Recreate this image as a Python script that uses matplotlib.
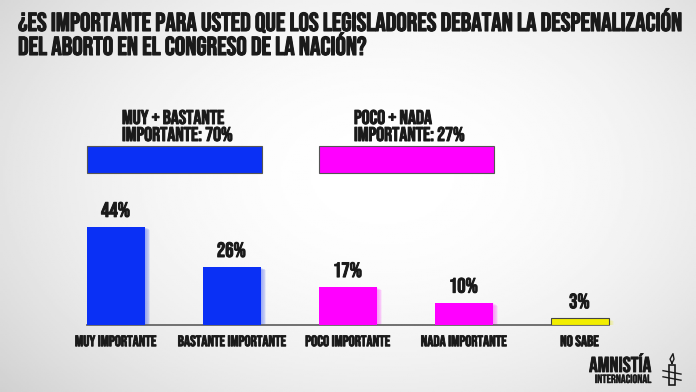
import matplotlib.pyplot as plt
import matplotlib.patheffects as pe
import numpy as np
from matplotlib.patches import Rectangle

categories = ["MUY IMPORTANTE", "BASTANTE IMPORTANTE", "POCO IMPORTANTE", "NADA IMPORTANTE", "NO SABE"]
values = [44, 26, 17, 10, 3]
bar_colors = ["#0a30f5", "#0a30f5", "#ff00ff", "#ff00ff", "#f2ee00"]
edge_colors = ["none", "none", "none", "none", "#444444"]
summary_line1 = ["MUY + BASTANTE", "POCO + NADA"]
summary_line2 = ["IMPORTANTE: 70%", "IMPORTANTE: 27%"]
summary_colors = ["#0a30f5", "#ff00ff"]
title1 = "¿ES IMPORTANTE PARA USTED QUE LOS LEGISLADORES DEBATAN LA DESPENALIZACIÓN"
title2 = "DEL ABORTO EN EL CONGRESO DE LA NACIÓN?"

FONT = ["Bebas Neue", "Oswald", "Liberation Sans Narrow", "DejaVu Sans"]
INK = "#1a1a1a"
W, H = 696, 392
fig = plt.figure(figsize=(W / 100, H / 100), dpi=100)


def bold(w=0.8):
    return [pe.withStroke(linewidth=w, foreground=INK)]


def fx(px):
    return px / W


def fy(py):
    return 1 - py / H


# background gradient
bg = fig.add_axes([0, 0, 1, 1])
yy, xx = np.mgrid[0:1:200j, 0:1:350j]
r = np.sqrt(((xx - 0.55) / 0.75) ** 2 + ((yy - 0.45) / 0.9) ** 2)
bg.imshow(1 - 0.2 * r ** 2, cmap="gray", vmin=0, vmax=1, aspect="auto", extent=[0, 1, 0, 1])
bg.set_xlim(0, 1)
bg.set_ylim(0, 1)
bg.axis("off")

# title
fig.text(fx(18), fy(31), title1, ha="left", va="baseline", fontsize=18.8,
         family=FONT, color=INK, path_effects=bold())
fig.text(fx(18), fy(55), title2, ha="left", va="baseline", fontsize=18.8,
         family=FONT, color=INK, path_effects=bold())

# summary boxes
for i in range(2):
    x0 = 87 + i * 232
    fig.patches.append(Rectangle((fx(x0), fy(173)), fx(175), 27 / H, transform=fig.transFigure,
                                 facecolor=summary_colors[i], edgecolor="#555555", lw=0.8))
    fig.text(fx(x0 + 35), fy(124), summary_line1[i], ha="left", va="baseline", fontsize=14.3,
             family=FONT, color=INK, path_effects=bold(0.7))
    fig.text(fx(x0 + 35), fy(141), summary_line2[i], ha="left", va="baseline", fontsize=14.3,
             family=FONT, color=INK, path_effects=bold(0.7))

# main bars
spacing = 116
left = 115.5 - spacing / 2
ax = fig.add_axes([fx(left), fy(325), 5 * spacing / W, 111.5 / H])
ax.set_xlim(-0.5, 4.5)
ax.set_ylim(0, 50)
x = np.arange(len(values))
# soft shadow
for k in range(6):
    ax.bar(x + 0.015 + k * 0.007, values, width=0.5, bottom=-0.3 - 0.2 * k,
           color=bar_colors, alpha=0.07, zorder=1)
ax.bar(x, values, width=0.5, color=bar_colors, edgecolor=edge_colors, lw=0.8, zorder=3)
ax.plot([-0.25, 4.25], [0, 0], color="#666666", lw=1.3, zorder=2, clip_on=False)
for xi, v in zip(x, values):
    ax.text(xi, v + 4.5, f"{v}%", ha="center", va="baseline", fontsize=15,
            family=FONT, color=INK, path_effects=bold(0.7))
for xi, c in zip(x, categories):
    ax.text(xi, -9.5, c, ha="center", va="baseline", fontsize=11,
            family=FONT, color=INK, path_effects=bold(0.6))
ax.axis("off")

# logo
fig.text(fx(651), fy(372), "AMNISTÍA", ha="right", va="baseline", fontsize=15.5,
         family=FONT, color=INK, path_effects=bold(0.6))
fig.text(fx(651), fy(383), "INTERNACIONAL", ha="right", va="baseline", fontsize=8.6,
         family=FONT, color=INK, path_effects=bold(0.3))
lg = fig.add_axes([fx(662), fy(387), fx(20), 34 / H])
lg.set_xlim(0, 1)
lg.set_ylim(0, 1)
lg.add_patch(Rectangle((0.35, 0.05), 0.3, 0.6, fill=False, ec=INK, lw=1.2))
lg.plot([0.5, 0.4, 0.55, 0.6, 0.5], [0.7, 0.82, 0.98, 0.82, 0.7], color=INK, lw=1)
lg.plot([0.05, 0.95], [0.48, 0.38], color=INK, lw=1)
lg.plot([0.05, 0.95], [0.3, 0.2], color=INK, lw=1)
lg.axis("off")

fig.savefig("out.png", dpi=100)
